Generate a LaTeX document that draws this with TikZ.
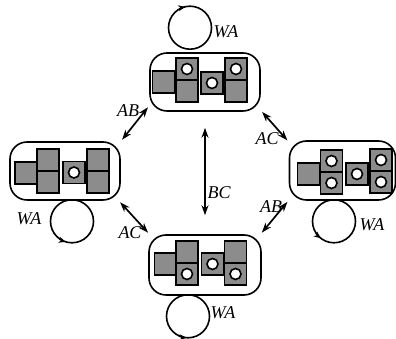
\documentclass[tikz,border=0pt]{standalone}
\usepackage{fontspec}
\setmainfont{Liberation Serif}
\usetikzlibrary{arrows.meta, positioning}

\begin{document}
\begin{tikzpicture}[
    x=1pt, y=1pt, >=Stealth,
    statebox/.style = {draw, line width=1.6pt, rounded corners=17pt, minimum width=110pt, minimum height=58pt},
    blk/.style = {draw, line width=1.3pt, fill=black!45, minimum size=22pt, inner sep=0pt},
    holeblk/.style = {blk, path picture={\draw[line width=1.6pt, fill=white] (path picture bounding box.center) circle (5.5pt);}},
    selfloop/.style = {circle, draw, line width=1.6pt, minimum size=43pt, inner sep=0pt, outer sep=0pt},
    looptip/.style = {arrows={-Stealth[length=7pt, width=6pt]}, line width=1.6pt},
    link/.style = {arrows={Stealth[length=10pt, width=7pt]-Stealth[length=10pt, width=7pt]}, line width=1.7pt, shorten <=2pt, shorten >=2pt},
    lbl/.style = {font=\fontsize{18}{20}\selectfont\itshape, inner sep=0pt}
]
    \useasboundingbox (0,0) rectangle (396,339);

    \node [statebox] (topstate) at (205,257) {};
    \node [statebox] (leftstate) at (65,168) {};
    \node [statebox, minimum width=106pt, minimum height=59pt] (rightstate) at (342.5,168.5) {};
    \node [statebox, minimum width=112pt, minimum height=60pt] (botstate) at (205,74) {};

    \node [blk] (t0) at (163.5,257) {};
    \node [holeblk] (t1a) at (187,270) {};
    \node [blk] (t1b) at (187,248) {};
    \node [holeblk] (tm) at (212,256) {};
    \node [holeblk] (t2a) at (236,270) {};
    \node [blk] (t2b) at (236,248) {};

    \node [blk] (l0) at (26,166) {};
    \node [blk] (l1a) at (48,179) {};
    \node [blk] (l1b) at (48,157) {};
    \node [holeblk] (lm) at (74,166.5) {};
    \node [blk] (l2a) at (98,179) {};
    \node [blk] (l2b) at (98,157) {};

    \node [blk] (r0) at (308.5,165) {};
    \node [holeblk] (r1a) at (331.5,178) {};
    \node [holeblk] (r1b) at (331.5,156) {};
    \node [holeblk] (rm) at (357,165) {};
    \node [holeblk] (r2a) at (381,179) {};
    \node [holeblk] (r2b) at (381,157) {};

    \node [blk] (b0) at (165.5,75) {};
    \node [blk] (b1a) at (187,87) {};
    \node [holeblk] (b1b) at (187,65) {};
    \node [holeblk] (bm) at (212.5,75) {};
    \node [blk] (b2a) at (235.5,87) {};
    \node [holeblk] (b2b) at (235.5,65) {};

    \node [selfloop, above=3pt of topstate, xshift=-15pt] (toploop) {};
    \node [selfloop, below=-1pt of leftstate, xshift=7pt] (leftloop) {};
    \node [selfloop, below=-1pt of rightstate, xshift=-8.5pt] (rightloop) {};
    \node [selfloop, below=-1pt of botstate, xshift=-17pt] (botloop) {};

    \draw [looptip] (toploop.120) arc[start angle=120, end angle=103, radius=21.5pt];
    \draw [looptip] (leftloop.235) arc[start angle=235, end angle=253, radius=21.5pt];
    \draw [looptip] (rightloop.213) arc[start angle=213, end angle=232, radius=21.5pt];
    \draw [looptip] (botloop.245) arc[start angle=245, end angle=266, radius=21.5pt];

    \node [lbl] (wa1) at (226,307) {WA};
    \node [lbl] (wa2) at (29,120) {WA};
    \node [lbl] (wa3) at (372,114) {WA};
    \node [lbl] (wa4) at (223,26) {WA};

    \draw [link] (leftstate.28) -- (topstate.203);
    \draw [link] (topstate.333) -- (rightstate.152);
    \draw [link] (rightstate.209) -- (botstate.29);
    \draw [link] (leftstate.331) -- (botstate.151);
    \draw [link, shorten <=16pt, shorten >=19pt] (topstate.south) -- (botstate.north);

    \node [lbl] (ab1) at (128,228) {AB};
    \node [lbl] (ac1) at (267,200) {AC};
    \node [lbl] (ab2) at (271,132) {AB};
    \node [lbl] (ac2) at (130,106) {AC};
    \node [lbl] (bc) at (219,146) {BC};
\end{tikzpicture}
\end{document}
